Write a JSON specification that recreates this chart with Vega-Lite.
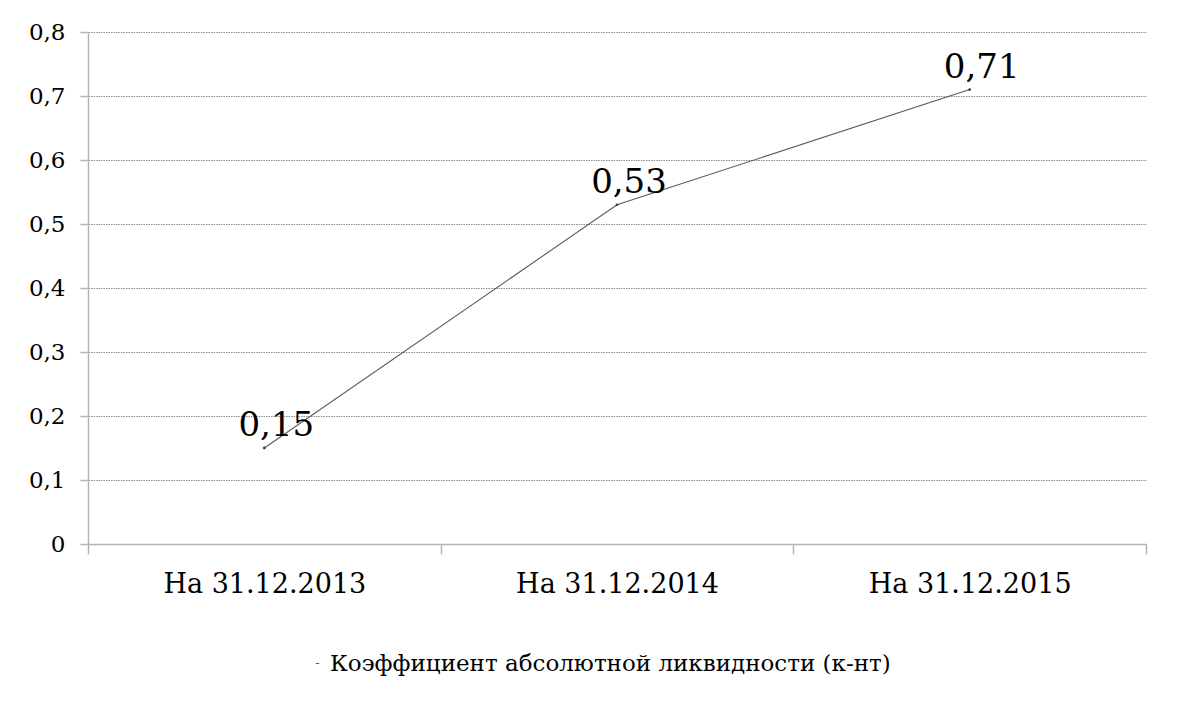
{
  "$schema": "https://vega.github.io/schema/vega-lite/v6.json",
  "autosize": {"type": "none"},
  "width": 1058,
  "height": 512,
  "padding": {"left": 88, "top": 32, "right": 46, "bottom": 178},
  "background": "white",
  "config": {
    "font": "DejaVu Serif",
    "view": {"stroke": null},
    "axis": {"labelFont": "DejaVu Serif", "labelColor": "#000000"},
    "legend": {"labelFont": "DejaVu Serif"},
    "text": {"font": "DejaVu Serif"}
  },
  "data": {
    "values": [
      {"date": "На 31.12.2013", "value": 0.15, "label": "0,15", "series": "Коэффициент абсолютной ликвидности (к-нт)"},
      {"date": "На 31.12.2014", "value": 0.53, "label": "0,53", "series": "Коэффициент абсолютной ликвидности (к-нт)"},
      {"date": "На 31.12.2015", "value": 0.71, "label": "0,71", "series": "Коэффициент абсолютной ликвидности (к-нт)"}
    ]
  },
  "encoding": {
    "x": {
      "field": "date",
      "type": "nominal",
      "sort": null,
      "scale": {"type": "band", "paddingInner": 0, "paddingOuter": 0},
      "axis": {
        "title": null,
        "labelAngle": 0,
        "labelFontSize": 27,
        "labelPadding": 17,
        "labelLimit": 0,
        "tickBand": "extent",
        "tickSize": 10,
        "tickColor": "#b4b4b4",
        "tickWidth": 1.5,
        "domainColor": "#b4b4b4",
        "domainWidth": 1.5,
        "grid": false
      }
    },
    "y": {
      "field": "value",
      "type": "quantitative",
      "scale": {"domain": [0, 0.8], "nice": false},
      "axis": {
        "title": null,
        "values": [0, 0.1, 0.2, 0.3, 0.4, 0.5, 0.6, 0.7, 0.8],
        "labelExpr": "replace(format(datum.value, '.1~f'), '.', ',')",
        "labelFontSize": 23,
        "labelPadding": 15,
        "tickSize": 8,
        "tickColor": "#b4b4b4",
        "tickWidth": 1.5,
        "domainColor": "#b4b4b4",
        "domainWidth": 1.5,
        "grid": true,
        "gridColor": "#8c8c8c",
        "gridDash": [1.5, 1],
        "gridWidth": 1
      }
    }
  },
  "layer": [
    {
      "mark": {"type": "line", "strokeWidth": 1.1},
      "encoding": {
        "color": {
          "field": "series",
          "type": "nominal",
          "scale": {"range": ["#5a5a5a"]},
          "legend": {
            "title": null,
            "orient": "none",
            "legendX": 218,
            "legendY": 620,
            "symbolType": "stroke",
            "symbolSize": 12,
            "symbolStrokeWidth": 1,
            "labelFontSize": 23,
            "labelColor": "#000000",
            "labelOffset": 1,
            "labelLimit": 0
          }
        }
      }
    },
    {
      "mark": {"type": "point", "filled": true, "size": 8, "color": "#404040", "opacity": 1}
    },
    {
      "mark": {"type": "text", "fontSize": 34, "align": "center", "baseline": "alphabetic", "dx": 12, "dy": -12, "color": "#000000"},
      "encoding": {"text": {"field": "label"}}
    }
  ]
}
